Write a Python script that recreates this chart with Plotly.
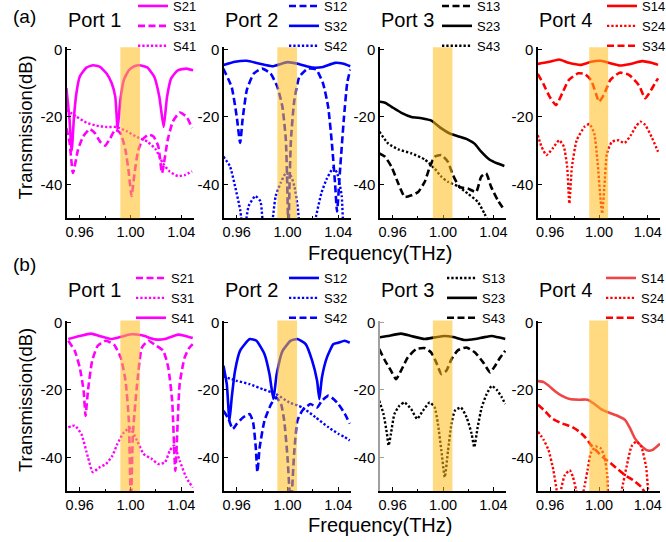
import plotly.graph_objects as go

# ---------------- axis / decoration values ----------------
X_RANGE = [0.95, 1.05]
Y_RANGE = [-50, 0.6]
X_TICKS = [0.96, 1.00, 1.04]
X_TICK_TEXT = ["0.96", "1.00", "1.04"]
X_MINOR = [0.98, 1.02]
Y_TICKS = [0, -20, -40]
Y_TICK_TEXT = ["0", "-20", "-40"]
BAND = [0.992, 1.0075]
PANEL_LABELS = ["(a)", "(b)"]
PORT_TITLES = ["Port 1", "Port 2", "Port 3", "Port 4"]
X_TITLE = "Frequency(THz)"
Y_TITLE = "Transmission(dB)"

# ---------------- (a) Port 1 ----------------
A1_S21_F = [0.9495, 0.9518, 0.9537, 0.9555, 0.9574, 0.9600, 0.9653, 0.9707, 0.9760, 0.9813, 0.9853, 0.9880, 0.9899, 0.9920, 0.9947, 0.9987, 1.0030, 1.0067, 1.0105, 1.0133, 1.0187, 1.0227, 1.0261, 1.0288, 1.0320, 1.0373, 1.0440, 1.0493]
A1_S21_DB = [-11.5, -20.0, -30.0, -20.0, -13.0, -8.1, -5.4, -4.7, -5.2, -7.2, -10.1, -14.0, -23.6, -15.0, -9.1, -6.2, -5.0, -4.7, -5.0, -5.4, -8.1, -14.0, -23.0, -14.0, -8.6, -6.2, -5.7, -6.2]
A1_S31_F = [0.9495, 0.9520, 0.9547, 0.9587, 0.9627, 0.9680, 0.9720, 0.9760, 0.9800, 0.9840, 0.9880, 0.9920, 0.9960, 0.9987, 1.0008, 1.0032, 1.0059, 1.0093, 1.0139, 1.0181, 1.0219, 1.0248, 1.0293, 1.0333, 1.0387, 1.0440, 1.0485]
A1_S31_DB = [-23.3, -27.5, -36.6, -29.7, -25.8, -23.6, -24.8, -27.3, -28.5, -26.3, -23.8, -24.8, -29.7, -36.6, -43.4, -36.6, -30.2, -26.8, -25.3, -25.8, -28.7, -36.6, -26.8, -21.4, -18.7, -19.9, -23.3]
A1_S41_F = [0.9495, 0.9574, 0.9653, 0.9733, 0.9813, 0.9893, 0.9973, 1.0053, 1.0133, 1.0200, 1.0253, 1.0307, 1.0373, 1.0427, 1.0485]
A1_S41_DB = [-17.9, -19.9, -21.7, -22.6, -23.0, -23.0, -24.3, -26.0, -27.3, -29.7, -33.6, -36.1, -37.5, -37.2, -36.1]

# ---------------- (a) Port 2 ----------------
A2_S12_F = [0.9494, 0.9560, 0.9600, 0.9627, 0.9646, 0.9680, 0.9734, 0.9800, 0.9867, 0.9920, 0.9960, 0.9987, 0.9998, 1.0007, 1.0016, 1.0027, 1.0054, 1.0094, 1.0160, 1.0227, 1.0280, 1.0320, 1.0350, 1.0375, 1.0390, 1.0415, 1.0445, 1.0470, 1.0494]
A2_S12_DB = [-5.7, -11.1, -19.9, -27.7, -20.9, -12.0, -7.2, -5.7, -7.2, -11.1, -17.0, -26.8, -40.0, -55.0, -40.0, -26.8, -15.0, -8.1, -5.7, -6.0, -10.1, -17.0, -28.0, -40.0, -48.0, -35.0, -20.0, -10.0, -6.0]
A2_S32_F = [0.9494, 0.9587, 0.9680, 0.9774, 0.9880, 1.0000, 1.0094, 1.0200, 1.0280, 1.0374, 1.0434, 1.0494]
A2_S32_DB = [-4.7, -3.7, -3.4, -4.2, -5.0, -3.8, -4.4, -5.4, -5.2, -4.0, -4.2, -5.0]
A2_S42_F = [0.9494, 0.9547, 0.9587, 0.9627, 0.9655, 0.9694, 0.9747, 0.9787, 0.9820, 0.9860, 0.9907, 0.9947, 0.9987, 1.0027, 1.0054, 1.0080, 1.0110, 1.0190, 1.0227, 1.0267, 1.0307, 1.0360, 1.0390, 1.0427, 1.0450, 1.0494]
A2_S42_DB = [-31.7, -34.6, -40.5, -47.4, -55.0, -46.4, -43.4, -45.0, -55.0, -55.0, -43.4, -39.5, -36.6, -37.5, -40.5, -46.4, -55.0, -55.0, -49.0, -42.5, -38.5, -35.1, -36.5, -43.4, -55.0, -55.0]

# ---------------- (a) Port 3 ----------------
A3_S13_F = [0.9495, 0.9540, 0.9592, 0.9645, 0.9697, 0.9750, 0.9803, 0.9855, 0.9895, 0.9934, 0.9987, 1.0039, 1.0079, 1.0132, 1.0197, 1.0263, 1.0303, 1.0342, 1.0382, 1.0434, 1.0487]
A3_S13_DB = [-30.8, -31.8, -34.8, -39.7, -43.7, -43.2, -42.2, -39.2, -34.8, -31.8, -31.3, -33.3, -37.2, -40.7, -41.2, -42.2, -37.7, -36.7, -40.7, -44.6, -47.6]
A3_S23_F = [0.9495, 0.9540, 0.9592, 0.9670, 0.9750, 0.9830, 0.9908, 0.9987, 1.0053, 1.0118, 1.0197, 1.0250, 1.0303, 1.0368, 1.0434, 1.0487]
A3_S23_DB = [-15.5, -15.8, -17.0, -18.8, -20.0, -20.4, -21.1, -23.4, -24.9, -25.7, -26.7, -27.9, -30.3, -32.6, -33.8, -34.5]
A3_S43_F = [0.9495, 0.9566, 0.9645, 0.9750, 0.9855, 0.9934, 0.9987, 1.0039, 1.0118, 1.0197, 1.0276, 1.0329, 1.0370]
A3_S43_DB = [-24.4, -27.9, -29.6, -30.8, -32.6, -35.3, -37.7, -39.2, -40.5, -42.7, -45.1, -48.6, -52.0]

# ---------------- (a) Port 4 ----------------
A4_S14_F = [0.9498, 0.9595, 0.9673, 0.9752, 0.9856, 0.9935, 1.0013, 1.0092, 1.0170, 1.0248, 1.0353, 1.0431, 1.0484]
A4_S14_DB = [-4.3, -3.7, -3.0, -4.0, -4.6, -3.7, -3.4, -4.1, -4.8, -4.4, -3.5, -4.0, -4.6]
A4_S24_F = [0.9498, 0.9529, 0.9569, 0.9621, 0.9673, 0.9712, 0.9739, 0.9757, 0.9778, 0.9817, 0.9882, 0.9922, 0.9961, 0.9987, 1.0013, 1.0026, 1.0044, 1.0065, 1.0105, 1.0157, 1.0209, 1.0261, 1.0301, 1.0340, 1.0379, 1.0431, 1.0484]
A4_S24_DB = [-25.4, -28.8, -31.3, -29.3, -26.9, -28.8, -34.8, -45.6, -34.8, -26.9, -22.9, -22.1, -24.9, -32.8, -44.6, -48.6, -40.7, -30.8, -27.4, -26.9, -27.7, -25.4, -22.9, -21.4, -22.4, -25.9, -30.3]
A4_S34_F = [0.9498, 0.9542, 0.9595, 0.9647, 0.9699, 0.9752, 0.9830, 0.9882, 0.9935, 0.9974, 1.0000, 1.0039, 1.0092, 1.0170, 1.0248, 1.0327, 1.0379, 1.0418, 1.0458, 1.0484]
A4_S34_DB = [-7.3, -10.1, -14.0, -16.5, -13.0, -9.1, -7.1, -7.3, -9.1, -13.0, -15.5, -13.5, -9.1, -6.9, -7.6, -10.6, -14.5, -12.6, -10.1, -8.6]

# ---------------- (b) Port 1 ----------------
B1_S21_F = [0.9510, 0.9561, 0.9600, 0.9631, 0.9646, 0.9665, 0.9698, 0.9742, 0.9806, 0.9871, 0.9923, 0.9961, 0.9987, 1.0003, 1.0019, 1.0052, 1.0090, 1.0142, 1.0194, 1.0258, 1.0297, 1.0328, 1.0353, 1.0387, 1.0426, 1.0465, 1.0490]
B1_S21_DB = [-5.4, -8.4, -13.3, -20.2, -27.7, -20.2, -11.4, -6.9, -5.4, -6.6, -10.4, -17.3, -29.1, -55.0, -33.0, -18.3, -7.4, -5.4, -6.7, -8.4, -13.3, -23.2, -44.0, -18.3, -10.4, -7.4, -6.4]
B1_S31_F = [0.9510, 0.9561, 0.9613, 0.9665, 0.9703, 0.9755, 0.9806, 0.9858, 0.9897, 0.9948, 0.9995, 1.0052, 1.0103, 1.0168, 1.0219, 1.0271, 1.0310, 1.0343, 1.0387, 1.0438, 1.0490]
B1_S31_DB = [-31.1, -30.6, -33.1, -40.0, -44.4, -43.0, -42.0, -39.5, -36.0, -32.6, -31.3, -35.1, -39.0, -40.5, -42.0, -41.5, -38.0, -36.5, -41.0, -45.9, -49.0]
B1_S41_F = [0.9510, 0.9600, 0.9690, 0.9755, 0.9845, 0.9910, 1.0005, 1.0090, 1.0194, 1.0270, 1.0374, 1.0426, 1.0490]
B1_S41_DB = [-4.9, -4.0, -3.3, -4.0, -4.9, -4.4, -3.5, -3.8, -5.0, -4.9, -3.6, -3.9, -4.6]

# ---------------- (b) Port 2 ----------------
B2_S12_F = [0.9496, 0.9522, 0.9543, 0.9561, 0.9587, 0.9626, 0.9703, 0.9755, 0.9819, 0.9858, 0.9889, 0.9915, 0.9961, 1.0026, 1.0078, 1.0143, 1.0194, 1.0233, 1.0251, 1.0271, 1.0310, 1.0362, 1.0400, 1.0450, 1.0490]
B2_S12_DB = [-12.8, -18.3, -29.1, -22.2, -14.3, -8.4, -4.9, -5.4, -9.4, -15.3, -22.7, -15.3, -8.4, -5.4, -4.9, -6.4, -11.3, -17.3, -22.7, -16.3, -10.4, -6.4, -6.0, -5.4, -6.0]
B2_S32_F = [0.9496, 0.9600, 0.9703, 0.9806, 0.9910, 1.0013, 1.0116, 1.0220, 1.0323, 1.0400, 1.0450, 1.0490]
B2_S32_DB = [-16.0, -17.3, -18.3, -19.8, -21.2, -23.7, -25.2, -28.1, -31.1, -33.0, -34.0, -35.0]
B2_S42_F = [0.9496, 0.9535, 0.9569, 0.9600, 0.9652, 0.9703, 0.9729, 0.9750, 0.9763, 0.9781, 0.9819, 0.9871, 0.9910, 0.9949, 0.9974, 1.0000, 1.0026, 1.0052, 1.0078, 1.0116, 1.0181, 1.0233, 1.0271, 1.0323, 1.0362, 1.0400, 1.0450, 1.0490]
B2_S42_DB = [-26.2, -28.6, -31.6, -30.1, -28.1, -27.2, -29.6, -37.0, -44.4, -37.0, -29.1, -24.2, -22.2, -24.2, -29.1, -40.0, -55.0, -39.0, -29.1, -26.2, -24.2, -25.2, -23.2, -21.7, -22.7, -24.2, -27.0, -30.0]

# ---------------- (b) Port 3 ----------------
B3_S13_F = [0.9494, 0.9528, 0.9555, 0.9568, 0.9587, 0.9614, 0.9654, 0.9694, 0.9747, 0.9795, 0.9840, 0.9894, 0.9934, 0.9960, 0.9987, 1.0014, 1.0040, 1.0067, 1.0094, 1.0142, 1.0187, 1.0227, 1.0248, 1.0275, 1.0307, 1.0347, 1.0387, 1.0427, 1.0467, 1.0494]
B3_S13_DB = [-23.2, -27.2, -33.0, -36.5, -33.0, -27.2, -24.7, -23.7, -25.7, -28.6, -26.2, -23.7, -25.2, -30.1, -38.0, -45.9, -38.0, -30.1, -26.2, -25.2, -28.1, -33.0, -37.0, -31.1, -25.2, -21.2, -18.8, -20.0, -22.2, -24.2]
B3_S23_F = [0.9494, 0.9560, 0.9667, 0.9747, 0.9854, 0.9934, 1.0014, 1.0080, 1.0174, 1.0254, 1.0320, 1.0387, 1.0440, 1.0494]
B3_S23_DB = [-4.4, -4.0, -3.3, -4.0, -4.9, -4.4, -4.0, -4.3, -5.2, -4.9, -4.4, -4.0, -4.4, -4.9]
B3_S43_F = [0.9494, 0.9534, 0.9587, 0.9627, 0.9667, 0.9720, 0.9787, 0.9854, 0.9907, 0.9947, 0.9987, 1.0027, 1.0067, 1.0120, 1.0187, 1.0254, 1.0320, 1.0374, 1.0414, 1.0454, 1.0494]
B3_S43_DB = [-7.9, -10.9, -14.3, -16.8, -14.3, -10.4, -7.9, -7.6, -8.9, -11.9, -15.3, -14.3, -10.9, -8.2, -7.4, -8.9, -11.9, -14.8, -12.8, -10.4, -8.4]

# ---------------- (b) Port 4 ----------------
B4_S14_F = [0.9500, 0.9546, 0.9586, 0.9640, 0.9693, 0.9760, 0.9840, 0.9906, 0.9960, 1.0013, 1.0080, 1.0146, 1.0213, 1.0253, 1.0293, 1.0346, 1.0400, 1.0440, 1.0500]
B4_S14_DB = [-17.4, -17.7, -18.7, -20.4, -21.7, -22.7, -22.9, -22.9, -24.1, -25.6, -26.7, -27.6, -28.9, -31.3, -34.3, -36.6, -38.0, -37.8, -36.0]
B4_S24_F = [0.9500, 0.9546, 0.9586, 0.9626, 0.9653, 0.9672, 0.9693, 0.9720, 0.9760, 0.9786, 0.9813, 0.9840, 0.9880, 0.9906, 0.9933, 0.9973, 1.0013, 1.0045, 1.0066, 1.0090, 1.0160, 1.0186, 1.0226, 1.0266, 1.0306, 1.0346, 1.0386, 1.0426, 1.0500]
B4_S24_DB = [-32.4, -34.8, -37.8, -43.8, -49.8, -55.0, -48.8, -45.3, -43.8, -45.8, -49.8, -55.0, -48.8, -43.8, -38.8, -36.8, -37.3, -39.8, -44.8, -55.0, -55.0, -49.8, -42.8, -36.8, -35.3, -36.8, -42.8, -55.0, -55.0]
B4_S34_F = [0.9500, 0.9560, 0.9613, 0.9693, 0.9773, 0.9840, 0.9893, 0.9933, 0.9986, 1.0026, 1.0080, 1.0146, 1.0213, 1.0280, 1.0346, 1.0400]
B4_S34_DB = [-24.4, -26.4, -28.4, -29.9, -30.9, -32.4, -34.3, -36.3, -38.3, -39.8, -41.3, -43.3, -45.3, -46.8, -48.8, -52.0]

# ---------------- styling ----------------
MAGENTA, BLUE, BLACK, RED, LIGHTRED = "#FF00FF", "#0000FF", "#000000", "#FF0000", "#EE4646"
STYLES = {
    "solid": dict(width=2.6),
    "dash": dict(width=2.6, dash="7px,3.5px"),
    "dot": dict(width=2.4, dash="2.3px,2px"),
}
FONT = "Liberation Sans, Arial, sans-serif"

# panels: (row, col, [(name, f, db, color, style)])
PANELS = [
    (0, 0, [("S21", A1_S21_F, A1_S21_DB, MAGENTA, "solid"),
            ("S31", A1_S31_F, A1_S31_DB, MAGENTA, "dash"),
            ("S41", A1_S41_F, A1_S41_DB, MAGENTA, "dot")]),
    (0, 1, [("S12", A2_S12_F, A2_S12_DB, BLUE, "dash"),
            ("S32", A2_S32_F, A2_S32_DB, BLUE, "solid"),
            ("S42", A2_S42_F, A2_S42_DB, BLUE, "dot")]),
    (0, 2, [("S13", A3_S13_F, A3_S13_DB, BLACK, "dash"),
            ("S23", A3_S23_F, A3_S23_DB, BLACK, "solid"),
            ("S43", A3_S43_F, A3_S43_DB, BLACK, "dot")]),
    (0, 3, [("S14", A4_S14_F, A4_S14_DB, RED, "solid"),
            ("S24", A4_S24_F, A4_S24_DB, RED, "dot"),
            ("S34", A4_S34_F, A4_S34_DB, RED, "dash")]),
    (1, 0, [("S21", B1_S21_F, B1_S21_DB, MAGENTA, "dash"),
            ("S31", B1_S31_F, B1_S31_DB, MAGENTA, "dot"),
            ("S41", B1_S41_F, B1_S41_DB, MAGENTA, "solid")]),
    (1, 1, [("S12", B2_S12_F, B2_S12_DB, BLUE, "solid"),
            ("S32", B2_S32_F, B2_S32_DB, BLUE, "dot"),
            ("S42", B2_S42_F, B2_S42_DB, BLUE, "dash")]),
    (1, 2, [("S13", B3_S13_F, B3_S13_DB, BLACK, "dot"),
            ("S23", B3_S23_F, B3_S23_DB, BLACK, "solid"),
            ("S43", B3_S43_F, B3_S43_DB, BLACK, "dash")]),
    (1, 3, [("S14", B4_S14_F, B4_S14_DB, LIGHTRED, "solid"),
            ("S24", B4_S24_F, B4_S24_DB, RED, "dot"),
            ("S34", B4_S34_F, B4_S34_DB, RED, "dash")]),
]

W, H = 666, 542
COL_PX = [(67, 194), (224, 351), (380, 506), (538, 660)]
ROW_PX = [(47.3, 218.3), (320.5, 491.0)]  # top, bottom in pixels
LEGEND_PX = [[(133, -9), (284, -9), (437, -9), (602, -9)],
             [(131, 263), (284, 263), (442, 263), (601, 263)]]

fig = go.Figure()
layout = dict(
    width=W, height=H,
    margin=dict(l=0, r=0, t=0, b=0, autoexpand=False),
    paper_bgcolor="white", plot_bgcolor="white",
    font=dict(family=FONT, color="black"),
    shapes=[], annotations=[],
)

for r, c, traces in PANELS:
    idx = r * 4 + c + 1
    sfx = "" if idx == 1 else str(idx)
    leg = "legend" if idx == 1 else "legend%d" % idx
    for name, f, db, color, style in traces:
        ln = dict(color=color, shape="spline", smoothing=0.5, **STYLES[style])
        fig.add_trace(go.Scatter(x=f, y=db, mode="lines", name=name, line=ln,
                                 xaxis="x" + sfx, yaxis="y" + sfx, legend=leg,
                                 showlegend=True))
    x0, x1 = COL_PX[c]
    yt, yb = ROW_PX[r]
    ylinecolor = "#A0A0A0" if (r, c) == (1, 2) else "black"
    layout["xaxis" + sfx] = dict(
        domain=[x0 / W, x1 / W], range=X_RANGE, anchor="y" + sfx,
        showline=True, linecolor="black", linewidth=1.5, mirror=False,
        showgrid=False, zeroline=False, automargin=False,
        tickmode="array", tickvals=X_TICKS, ticktext=X_TICK_TEXT,
        ticks="inside", ticklen=4, tickwidth=1.2, tickcolor="black",
        minor=dict(tickmode="array", tickvals=X_MINOR, ticks="inside", ticklen=2.5,
                   tickwidth=1.2, tickcolor="black", showgrid=False),
        tickfont=dict(size=14.5, family=FONT, color="black"),
        ticklabeloverflow="allow",
    )
    layout["yaxis" + sfx] = dict(
        domain=[1 - yb / H, 1 - yt / H], range=Y_RANGE, anchor="x" + sfx,
        showline=True, linecolor=ylinecolor, linewidth=1.5, mirror=False,
        showgrid=False, zeroline=False, automargin=False,
        tickmode="array", tickvals=Y_TICKS, ticktext=Y_TICK_TEXT,
        ticks="inside", ticklen=4, tickwidth=1.2, tickcolor=ylinecolor,
        tickfont=dict(size=15, family=FONT, color="black"),
        ticklabeloverflow="allow",
    )
    lx, ly = LEGEND_PX[r][c]
    layout[leg] = dict(
        x=lx / W, y=1 - ly / H, xanchor="left", yanchor="top",
        xref="paper", yref="paper",
        bgcolor="rgba(0,0,0,0)", borderwidth=0,
        font=dict(size=13, family=FONT, color="black"),
        itemwidth=30, tracegroupgap=0,
    )
    layout["shapes"].append(dict(
        type="rect", xref="x" + sfx, yref="y" + sfx + " domain",
        x0=BAND[0], x1=BAND[1], y0=0, y1=1,
        fillcolor="rgba(255,188,25,0.55)", line=dict(width=0), layer="above",
    ))
    layout["annotations"].append(dict(
        text=PORT_TITLES[c], xref="paper", yref="paper",
        x=x0 / W - 0.001, y=1 - (20 if r == 0 else 290) / H,
        xanchor="left", yanchor="middle", showarrow=False,
        font=dict(size=20, family=FONT, color="black"),
    ))

for r in range(2):
    layout["annotations"].append(dict(
        text=PANEL_LABELS[r], xref="paper", yref="paper",
        x=24.5 / W, y=1 - (16.5 if r == 0 else 265) / H,
        xanchor="center", yanchor="middle", showarrow=False,
        font=dict(size=19, family=FONT, color="black"),
    ))
    layout["annotations"].append(dict(
        text=Y_TITLE, xref="paper", yref="paper", textangle=-90,
        x=25 / W, y=1 - (127.5 if r == 0 else 400) / H,
        xanchor="center", yanchor="middle", showarrow=False,
        font=dict(size=18.5, family=FONT, color="black"),
    ))
    layout["annotations"].append(dict(
        text=X_TITLE, xref="paper", yref="paper",
        x=380 / W, y=1 - (253 if r == 0 else 525) / H,
        xanchor="center", yanchor="middle", showarrow=False,
        font=dict(size=20, family=FONT, color="black"),
    ))

fig.update_layout(**layout)
fig.write_html("out.html", config={"displayModeBar": False},
               post_script="document.body.style.margin='0';document.body.style.overflow='hidden';")
